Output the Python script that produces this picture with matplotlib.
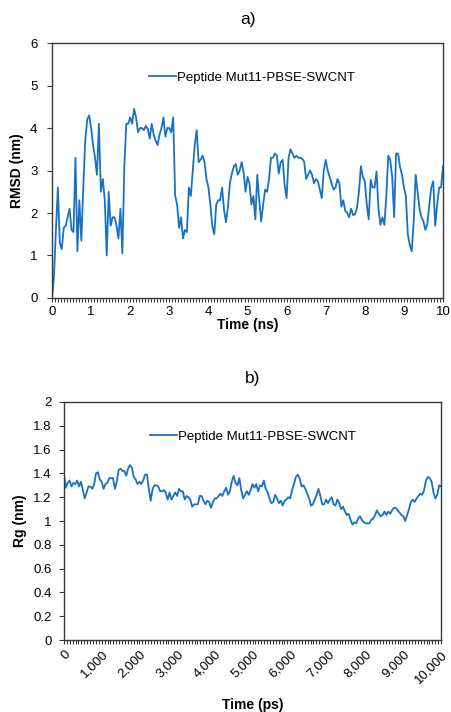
import numpy as np
import matplotlib
matplotlib.use("Agg")
import matplotlib.pyplot as plt
from matplotlib.ticker import MultipleLocator, FuncFormatter

plt.rcParams['font.family'] = ['Liberation Sans', 'DejaVu Sans']

# RMSD (nm), read every 0.05 ns from 0 to 10 ns
rmsd_time = np.arange(201) * 0.05
rmsd = [
    0.0, 0.5, 1.6, 2.6, 1.3, 1.15, 1.65, 1.7, 1.9, 2.1,
    1.6, 1.55, 3.3, 1.1, 2.3, 1.35, 2.6, 3.7, 4.2, 4.3,
    4.0, 3.6, 3.3, 2.9, 4.1, 2.5, 2.8, 2.3, 1.0, 2.5,
    1.7, 1.9, 1.9, 1.7, 1.4, 2.1, 1.05, 3.1, 4.1, 4.1,
    4.25, 4.1, 4.45, 4.25, 3.9, 4.0, 4.0, 3.95, 4.05, 3.98,
    3.75, 4.1, 3.85, 3.7, 3.6, 3.85, 4.0, 4.25, 3.8, 4.0,
    4.0, 3.9, 4.25, 2.4, 2.2, 1.65, 1.9, 1.4, 1.6, 1.55,
    2.6, 2.4, 3.0, 3.6, 3.95, 3.2, 3.25, 3.35, 3.2, 2.8,
    2.6, 2.2, 1.7, 1.5, 2.2, 2.3, 2.3, 2.6, 2.07, 1.78,
    2.15, 2.7, 2.93, 3.1, 3.15, 2.9, 3.0, 3.2, 2.95, 2.5,
    2.85, 2.7, 2.2, 2.4, 1.85, 2.9, 2.3, 1.8, 2.2, 2.55,
    2.5, 2.8, 3.3, 3.3, 3.4, 3.35, 2.93, 3.2, 3.25, 2.65,
    2.35, 3.3, 3.5, 3.4, 3.3, 3.35, 3.3, 3.3, 3.28, 3.2,
    2.8, 2.9, 3.0, 2.9, 2.7, 2.8, 2.75, 2.55, 2.35, 3.0,
    3.25, 3.0, 2.85, 2.7, 2.55, 2.6, 2.8, 2.7, 2.15, 2.3,
    2.05, 2.0, 1.9, 2.1, 1.95, 1.97, 2.12, 2.5, 3.1, 2.85,
    2.75, 2.2, 1.85, 2.78, 2.6, 2.6, 2.98, 2.1, 1.72, 1.9,
    1.72, 2.4, 3.35, 3.25, 2.85, 1.9, 3.4, 3.4, 3.09, 2.9,
    2.6, 2.4, 1.5, 1.25, 1.1, 1.8, 2.9, 2.5, 2.1, 1.9,
    1.8, 1.6, 1.75, 2.2, 2.6, 2.75, 1.7, 2.2, 2.6, 2.6,
    3.1,
]

# Rg (nm), read every 50 ps from 0 to 10000 ps
rg_time = np.arange(201) * 50
rg = [
    1.39, 1.28, 1.32, 1.34, 1.29, 1.32, 1.31, 1.34, 1.29, 1.33,
    1.26, 1.19, 1.24, 1.29, 1.29, 1.27, 1.31, 1.40, 1.41, 1.35,
    1.33, 1.27, 1.31, 1.32, 1.36, 1.36, 1.36, 1.27, 1.33, 1.43,
    1.44, 1.42, 1.42, 1.38, 1.44, 1.47, 1.45, 1.37, 1.35, 1.31,
    1.33, 1.31, 1.34, 1.39, 1.39, 1.27, 1.17, 1.27, 1.30, 1.30,
    1.29, 1.25, 1.25, 1.26, 1.24, 1.18, 1.24, 1.18, 1.21, 1.24,
    1.21, 1.27, 1.25, 1.25, 1.18, 1.21, 1.20, 1.18, 1.12, 1.14,
    1.14, 1.14, 1.21, 1.21, 1.17, 1.14, 1.17, 1.16, 1.11, 1.16,
    1.19, 1.19, 1.21, 1.23, 1.21, 1.25, 1.28, 1.22, 1.25, 1.33,
    1.38, 1.32, 1.30, 1.36, 1.26, 1.19, 1.22, 1.25, 1.22, 1.26,
    1.31, 1.28, 1.31, 1.25, 1.30, 1.29, 1.34, 1.27, 1.24, 1.19,
    1.15, 1.16, 1.22, 1.19, 1.15, 1.17, 1.13, 1.17, 1.18, 1.20,
    1.19, 1.26, 1.31, 1.37, 1.39, 1.36, 1.29, 1.30, 1.27, 1.23,
    1.19, 1.13, 1.14, 1.18, 1.22, 1.27, 1.21, 1.14, 1.14, 1.18,
    1.15, 1.18, 1.20, 1.14, 1.13, 1.18, 1.15, 1.10, 1.12, 1.08,
    1.05, 1.06, 1.01, 0.97, 0.99, 0.98, 1.02, 1.04, 1.01, 0.99,
    0.98, 0.98, 0.98, 1.01, 1.02, 1.05, 1.09, 1.06, 1.04, 1.05,
    1.08, 1.05, 1.08, 1.06, 1.09, 1.11, 1.11, 1.09, 1.07, 1.05,
    1.04, 1.00, 1.05, 1.10, 1.16, 1.18, 1.16, 1.19, 1.21, 1.23,
    1.22, 1.26, 1.34, 1.37, 1.36, 1.33, 1.24, 1.19, 1.22, 1.30,
    1.29,
]

label = 'Peptide Mut11-PBSE-SWCNT'
blue = '#1872C4'
spine_col = '#3a3a3a'

fig = plt.figure(figsize=(4.51, 7.12), dpi=100)
ax1 = fig.add_axes([0.1153, 0.5815, 0.867, 0.358])
ax2 = fig.add_axes([0.1419, 0.1011, 0.836, 0.3343])


def style(ax, ypad):
    for s in ax.spines.values():
        s.set_color(spine_col)
        s.set_linewidth(1.0)
    ax.tick_params(axis='both', which='both', direction='out', length=3,
                   width=0.8, color=spine_col, labelsize=9.5, pad=3)
    ax.tick_params(axis='y', which='both', right=False, length=3.5, pad=ypad)
    ax.tick_params(axis='x', which='both', top=False)


# top panel
ax1.plot(rmsd_time, rmsd, color=blue, lw=1.3, label=label)
ax1.set_xlim(0, 10)
ax1.set_ylim(0, 6)
ax1.xaxis.set_major_locator(MultipleLocator(1))
ax1.xaxis.set_minor_locator(MultipleLocator(1 / 13))
ax1.yaxis.set_major_locator(MultipleLocator(1))
style(ax1, 7)
ax1.set_xlabel('Time (ns)', fontsize=10, fontweight='bold', labelpad=0)
ax1.set_ylabel('RMSD (nm)', fontsize=10, fontweight='bold', labelpad=4)
ax1.set_title('a)', fontsize=12.5, pad=14)
ax1.legend(loc='center left', bbox_to_anchor=(0.235, 0.865), frameon=False,
           fontsize=9.5, handlelength=2.0, handletextpad=0.1, borderaxespad=0)

# bottom panel
ax2.plot(rg_time, rg, color=blue, lw=1.3, label=label)
ax2.set_xlim(0, 10000)
ax2.set_ylim(0, 2)
ax2.xaxis.set_major_locator(MultipleLocator(1000))
ax2.xaxis.set_minor_locator(MultipleLocator(10000 / 130))
ax2.yaxis.set_major_locator(MultipleLocator(0.2))
ax2.xaxis.set_major_formatter(FuncFormatter(lambda v, p: f'{int(round(v)):,}'))
ax2.yaxis.set_major_formatter(FuncFormatter(lambda v, p: f'{v:g}'))
style(ax2, 5.5)
plt.setp(ax2.get_xticklabels(), rotation=45, ha='right', rotation_mode='anchor')
ax2.set_xlabel('Time (ps)', fontsize=10, fontweight='bold', labelpad=9)
ax2.set_ylabel('Rg (nm)', fontsize=10, fontweight='bold', labelpad=4)
ax2.set_title('b)', fontsize=12.5, pad=14)
ax2.legend(loc='center left', bbox_to_anchor=(0.215, 0.853), frameon=False,
           fontsize=9.5, handlelength=2.0, handletextpad=0.1, borderaxespad=0)

fig.savefig('out.png', dpi=100)
